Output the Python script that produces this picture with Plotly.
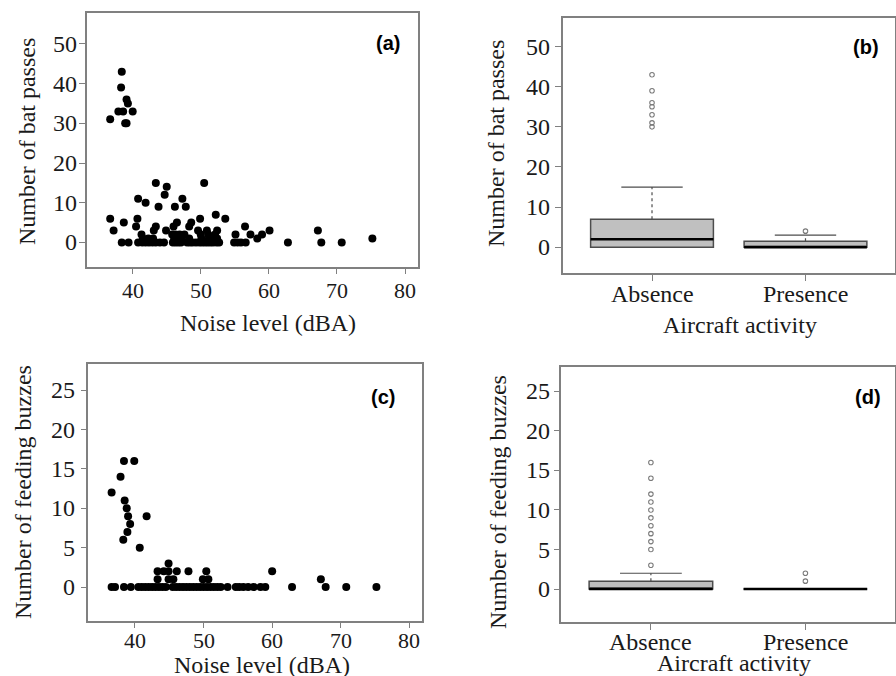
import plotly.graph_objects as go

# ---------------- data ----------------
# Panel (a): noise level vs number of bat passes
noise_a = [36.7, 38.4, 38.3, 39.1, 39.3, 37.9, 38.6, 40.0, 38.9, 39.1,
           36.7, 40.7, 49.9, 53.6, 38.7, 46.5, 48.6, 40.5, 43.4, 46.0, 48.3, 56.5,
           37.2, 43.1, 44.9, 49.6, 50.9, 52.4, 60.1, 67.2,
           41.3, 45.8, 46.3, 46.9, 47.6, 50.0, 51.1, 52.1, 55.1, 57.3, 59.0,
           41.5, 42.3, 43.0, 46.1, 46.6, 47.2, 48.3, 50.1, 51.2, 51.9, 52.4, 58.3, 75.2,
           38.4, 39.4, 40.8, 41.4, 41.9, 42.4, 42.9, 43.4, 44.0, 44.6, 45.9, 46.3, 46.7,
           47.1, 48.0, 48.4, 48.8, 49.3, 49.8, 50.2, 50.6, 51.0, 51.4, 51.8, 52.3, 52.7,
           54.9, 55.4, 55.9, 56.6, 62.8, 67.7, 70.7,
           52.2, 43.8, 46.2, 47.8, 41.9, 40.8, 47.3, 44.7, 45.0, 43.4, 50.5]
passes_a = [31, 43, 39, 36, 35, 33, 33, 33, 30, 30,
            6, 6, 6, 6, 5, 5, 5, 4, 4, 4, 4, 4,
            3, 3, 3, 3, 3, 3, 3, 3,
            2, 2, 2, 2, 2, 2, 2, 2, 2, 2, 2,
            1, 1, 1, 1, 1, 1, 1, 1, 1, 1, 1, 1, 1,
            0, 0, 0, 0, 0, 0, 0, 0, 0, 0, 0, 0, 0,
            0, 0, 0, 0, 0, 0, 0, 0, 0, 0, 0, 0, 0,
            0, 0, 0, 0, 0, 0, 0,
            7, 9, 9, 9, 10, 11, 11, 12, 14, 15, 15]

# Panel (c): noise level vs number of feeding buzzes
noise_c = [36.6, 37.1, 38.4, 39.4, 40.5, 41.0, 41.5, 42.0, 42.5, 43.0, 43.5, 44.0,
           44.5, 45.5, 46.0, 46.5, 47.0, 47.5, 48.0, 48.5, 49.0, 49.5, 50.0, 50.5,
           51.0, 51.5, 52.0, 52.5, 53.5, 54.7, 55.2, 55.8, 56.5, 57.3, 58.3, 59.0,
           62.9, 67.8, 70.8, 75.2,
           43.3, 44.9, 45.6, 49.9, 50.7, 67.1,
           43.3, 44.2, 44.9, 46.1, 47.8, 50.4, 60.0,
           44.9, 40.7, 38.3, 38.9, 39.3, 39.0, 41.7, 38.8, 38.5, 36.6, 37.9, 38.4, 39.9]
buzzes_c = [0] * 40 + [1] * 6 + [2] * 7 + \
           [3, 5, 6, 7, 8, 9, 9, 10, 11, 12, 14, 16, 16]

# Panels (b) and (d): box plot summaries by aircraft activity
groups = ["Absence", "Presence"]
group_pos = [1, 2]
b_q1 = [0, 0]
b_median = [2, 0]
b_q3 = [7, 1.5]
b_upper = [15, 3]
b_outliers = [[30, 31, 33, 35, 36, 39, 43], [4]]
d_q1 = [0, 0]
d_median = [0, 0]
d_q3 = [1, 0]
d_upper = [2, 0]
d_outliers = [[3, 5, 6, 7, 8, 9, 10, 11, 12, 14, 16], [1, 2]]

y_ticks_top = [0, 10, 20, 30, 40, 50]
y_ticks_bottom = [0, 5, 10, 15, 20, 25]
x_ticks_noise = [40, 50, 60, 70, 80]

# ---------------- styling helpers ----------------
W, H = 896, 676
def px(x):
    return x / W
def py(y):
    return 1 - y / H

SERIF = "Liberation Serif"
FRAME = "#808080"
BOXLINE = "#4d4d4d"
BOXFILL = "#c0c0c0"
BOXW = 0.8

fig = go.Figure()
fig.add_trace(go.Scatter(x=noise_a, y=passes_a, mode="markers",
                         marker=dict(color="black", size=8), xaxis="x", yaxis="y",
                         showlegend=False))
fig.add_trace(go.Scatter(x=noise_c, y=buzzes_c, mode="markers",
                         marker=dict(color="black", size=8), xaxis="x3", yaxis="y3",
                         showlegend=False))

def add_boxes(q1, med, q3, upper, outs, xa, ya):
    for i, pos in enumerate(group_pos):
        fig.add_trace(go.Box(x=[pos], q1=[q1[i]], median=[med[i]], q3=[q3[i]],
                             lowerfence=[q1[i]], upperfence=[q3[i]], width=BOXW,
                             whiskerwidth=0, fillcolor=BOXFILL,
                             line=dict(color=BOXLINE, width=1.5),
                             boxpoints=False, xaxis=xa, yaxis=ya, showlegend=False))
        if upper[i] > q3[i]:
            fig.add_trace(go.Scatter(x=[pos, pos], y=[q3[i], upper[i]], mode="lines",
                                     line=dict(color=BOXLINE, width=1.2, dash="dot"),
                                     xaxis=xa, yaxis=ya, showlegend=False))
            fig.add_trace(go.Scatter(x=[pos - BOXW / 4, pos + BOXW / 4],
                                     y=[upper[i], upper[i]], mode="lines",
                                     line=dict(color=BOXLINE, width=1.2),
                                     xaxis=xa, yaxis=ya, showlegend=False))
        fig.add_trace(go.Scatter(x=[pos - BOXW / 2, pos + BOXW / 2],
                                 y=[med[i], med[i]], mode="lines",
                                 line=dict(color="black", width=2.5),
                                 xaxis=xa, yaxis=ya, showlegend=False))
        fig.add_trace(go.Scatter(x=[pos] * len(outs[i]), y=outs[i], mode="markers",
                                 marker=dict(symbol="circle-open", color="#7a7a7a",
                                             size=4.5, line=dict(width=1.1)),
                                 xaxis=xa, yaxis=ya, showlegend=False))

add_boxes(b_q1, b_median, b_q3, b_upper, b_outliers, "x2", "y2")
add_boxes(d_q1, d_median, d_q3, d_upper, d_outliers, "x4", "y4")

axis_style = dict(showline=True, mirror=True, linecolor=FRAME, linewidth=1.5,
                  ticks="outside", tickcolor=FRAME, tickwidth=1.2, ticklen=6,
                  showgrid=False, zeroline=False, showticklabels=False)

fig.update_layout(
    width=W, height=H, margin=dict(l=0, r=0, t=0, b=0),
    paper_bgcolor="white", plot_bgcolor="white", showlegend=False,
    xaxis=dict(domain=[px(86.7), px(418)], range=[33.25, 81.9], tickvals=x_ticks_noise,
               anchor="y", **axis_style),
    yaxis=dict(domain=[py(266.7), py(13.3)], range=[-6.1, 57.7], tickvals=y_ticks_top,
               anchor="x", **axis_style),
    xaxis2=dict(domain=[px(563), px(894.5)], range=[0.42, 2.58], tickvals=group_pos,
                anchor="y2", **axis_style),
    yaxis2=dict(domain=[py(273.3), py(17.7)], range=[-6.5, 57.2], tickvals=y_ticks_top,
                anchor="x2", **axis_style),
    xaxis3=dict(domain=[px(88.3), px(421.7)], range=[33.2, 81.8], tickvals=x_ticks_noise,
                anchor="y3", **axis_style),
    yaxis3=dict(domain=[py(620.7), py(364.3)], range=[-4.28, 28.3], tickvals=y_ticks_bottom,
                anchor="x3", **axis_style),
    xaxis4=dict(domain=[px(561.3), px(895)], range=[0.42, 2.58], tickvals=group_pos,
                anchor="y4", **axis_style),
    yaxis4=dict(domain=[py(622.3), py(366.7)], range=[-4.2, 28.1], tickvals=y_ticks_bottom,
                anchor="x4", **axis_style),
)

tick_font_x = dict(family=SERIF, size=22, color="#1a1a1a")
tick_font_y = dict(family=SERIF, size=24, color="#1a1a1a")
tick_font_cat = dict(family=SERIF, size=24, color="#1a1a1a")

def ann(text, x, y, xref, yref, font, xanchor="center", yanchor="middle", ang=0):
    fig.add_annotation(text=text, x=x, y=y, xref=xref, yref=yref, xanchor=xanchor,
                       yanchor=yanchor, showarrow=False, textangle=ang, font=font,
                       borderpad=0)

# tick labels (placed as text at the reference's label positions)
for v in x_ticks_noise:
    ann(str(v), v, py(290.8), "x", "paper", tick_font_x)
    ann(str(v), v, py(640), "x3", "paper", tick_font_x)
for pos, g in zip(group_pos, groups):
    ann(g, pos, py(294.3), "x2", "paper", tick_font_cat)
    ann(g, pos, py(641.7), "x4", "paper", tick_font_cat)
for v in y_ticks_top:
    ann(str(v), px(78), v, "paper", "y", tick_font_y, xanchor="right")
    ann(str(v), px(550.5), v, "paper", "y2", tick_font_y, xanchor="right")
for v in y_ticks_bottom:
    ann(str(v), px(76), v, "paper", "y3", tick_font_y, xanchor="right")
    ann(str(v), px(550.5), v, "paper", "y4", tick_font_y, xanchor="right")

title_font = dict(family=SERIF, size=24, color="#1a1a1a")
label_font = dict(family="Liberation Sans", size=20, color="black")
annots = [
    ("Noise level (dBA)", 268, 323, 0, title_font),
    ("Aircraft activity", 740, 325, 0, title_font),
    ("Noise level (dBA)", 262, 665, 0, title_font),
    ("Aircraft activity", 734, 663, 0, title_font),
    ("Number of bat passes", 27, 142, -90, title_font),
    ("Number of bat passes", 496, 144, -90, title_font),
    ("Number of feeding buzzes", 23, 492, -90, title_font),
    ("Number of feeding buzzes", 498, 502, -90, title_font),
    ("<b>(a)</b>", 388, 43, 0, label_font),
    ("<b>(b)</b>", 866, 47, 0, label_font),
    ("<b>(c)</b>", 383, 397, 0, label_font),
    ("<b>(d)</b>", 868, 397, 0, label_font),
]
for text, x, y, a, f in annots:
    ann(text, px(x), py(y), "paper", "paper", f, ang=a)

fig.write_html("out.html", config={"displayModeBar": False},
               post_script="document.body.style.margin='0';"
                           "document.body.style.overflow='hidden';")
